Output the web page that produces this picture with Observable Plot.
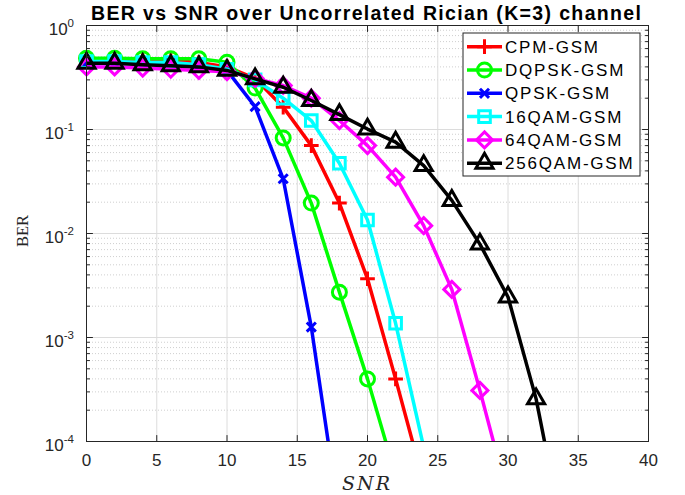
<!DOCTYPE html>
<html><head><meta charset="utf-8">
<script src="https://cdn.jsdelivr.net/npm/d3@7"></script>
<script src="https://cdn.jsdelivr.net/npm/@observablehq/plot@0.6"></script>
<style>body{margin:0;background:#fff} #chart{width:685px;height:495px}</style>
</head><body><div id="chart"></div>
<script>
// ---- data ----
const snr = [0,2,4,6,8,10,12,14,16,18,20,22,24,26,28,30,32,34];
const seriesNames = ["CPM-GSM","DQPSK-GSM","QPSK-GSM","16QAM-GSM","64QAM-GSM","256QAM-GSM"];
const seriesColors = ["#ff0000","#00ff00","#0000ff","#00ffff","#ff00ff","#000000"];
const seriesSymbols = ["plus","circle","times","square2","diamond2","triangle2"];
const seriesR = [4.8, 7, 4.2, 7.4, 7.2, 8.2];
const berCPM    = [0.47,0.47,0.46,0.46,0.44,0.40,0.31,0.164,0.070,0.0196,0.00367,4.0e-4,4.0e-5];
const berDQPSK  = [0.485,0.485,0.48,0.48,0.478,0.444,0.25,0.083,0.0196,0.00273,4.0e-4,4.7e-5];
const berQPSK   = [0.43,0.43,0.43,0.43,0.41,0.37,0.166,0.0336,0.00126,1.85e-5];
const ber16QAM  = [0.45,0.45,0.44,0.44,0.42,0.38,0.30,0.20,0.122,0.0474,0.0135,0.00137,8.8e-5];
const ber64QAM  = [0.40,0.40,0.39,0.38,0.37,0.36,0.31,0.265,0.20,0.122,0.070,0.0348,0.0119,0.0029,3.1e-4,2.95e-5];
const ber256QAM = [0.434,0.434,0.42,0.41,0.40,0.37,0.307,0.255,0.19,0.139,0.101,0.0755,0.045,0.0208,0.0079,0.00245,2.57e-4,1.1e-5];
const xTicks = [0,5,10,15,20,25,30,35,40];
const yMajor = [1e-4,1e-3,1e-2,1e-1,1];
const yExponents = ["-4","-3","-2","-1","0"];
const minorMult = [2,3,4,5,6,7,8,9];
const titleText = "BER vs SNR over Uncorrelated Rician (K=3) channel";
const xLabel = "SNR";
const yLabel = "BER";

const allSeries = [berCPM, berDQPSK, berQPSK, ber16QAM, ber64QAM, ber256QAM];
const yMinor = yMajor.slice(0, -1).flatMap(d => minorMult.map(m => d * m));
const yMin = 1e-4;
const axisColor = "#262626";
const sans = "'Liberation Sans', Arial, sans-serif";

// straight tick shape for vector marks
const tickShape = {draw(context, l) { context.moveTo(0, 0); context.lineTo(0, -l); }};
const ticks = (data, dim, frameAnchor, rotate, length) =>
  Plot.vector(data, {[dim]: d => d, frameAnchor, rotate, length, anchor: "start", shape: tickShape, stroke: axisColor, strokeWidth: 1});

const marks = [
  Plot.gridY(yMinor, {stroke: "#cfcfcf", strokeOpacity: 1, strokeDasharray: "1,2"}),
  Plot.gridX(xTicks, {stroke: "#dcdcdc", strokeOpacity: 1}),
  Plot.gridY(yMajor, {stroke: "#dcdcdc", strokeOpacity: 1})
];
allSeries.forEach((vals, i) => {
  const rows = vals.map((v, j) => ({snr: snr[j], ber: v}));
  marks.push(Plot.line(rows, {x: "snr", y: "ber", stroke: seriesColors[i], strokeWidth: 3.5, clip: true}));
  marks.push(Plot.dot(rows.filter(d => d.ber >= yMin), {x: "snr", y: "ber", symbol: seriesSymbols[i], r: seriesR[i], stroke: seriesColors[i], strokeWidth: 3, fill: "none"}));
});
marks.push(
  Plot.frame({stroke: axisColor, strokeWidth: 1}),
  ticks(xTicks, "x", "bottom", 0, 6),
  ticks(xTicks, "x", "top", 180, 6),
  ticks(yMajor, "y", "left", 90, 6),
  ticks(yMinor, "y", "left", 90, 3),
  ticks(yMajor, "y", "right", -90, 6),
  ticks(yMinor, "y", "right", -90, 3),
  Plot.axisX(xTicks, {anchor: "bottom", tickSize: 0, tickPadding: 12, label: null, fill: axisColor, fontSize: 17})
);

const plot = Plot.plot({
  width: 685, height: 495,
  marginLeft: 86, marginRight: 37, marginTop: 25, marginBottom: 54,
  style: {fontFamily: sans, fontSize: "17px", background: "white", color: axisColor},
  x: {domain: [0, 40]},
  y: {type: "log", domain: [1e-4, 1], axis: null},
  marks
});

const svg = d3.select(plot);
const ys = plot.scale("y");
// y tick labels with superscript exponents
yMajor.forEach((v, i) => {
  const t = svg.append("text")
    .attr("x", 74).attr("y", ys.apply(v) + 10)
    .attr("text-anchor", "end")
    .attr("fill", axisColor)
    .style("font", `17px ${sans}`);
  t.append("tspan").text("10");
  t.append("tspan").attr("dy", -8).attr("font-size", 11.5).text(yExponents[i]);
});
// title
svg.append("text").attr("x", 366).attr("y", 20).attr("text-anchor", "middle")
  .attr("textLength", 550).attr("lengthAdjust", "spacing")
  .style("font", `bold 19.5px ${sans}`).attr("fill", "#000").text(titleText);
// axis labels
svg.append("text").attr("x", 367).attr("y", 490).attr("text-anchor", "middle")
  .style("font", "italic 19px 'DejaVu Serif', 'Liberation Serif', serif").style("letter-spacing", "2px")
  .attr("fill", axisColor).text(xLabel);
svg.append("text").attr("transform", "translate(28,231) rotate(-90)").attr("text-anchor", "middle")
  .style("font", "16.5px 'Liberation Serif', 'Times New Roman', serif").attr("fill", axisColor).text(yLabel);

// legend
const symMap = {plus: d3.symbolPlus, circle: d3.symbolCircle, times: d3.symbolTimes, square2: d3.symbolSquare2, diamond2: d3.symbolDiamond2, triangle2: d3.symbolTriangle2};
const lg = svg.append("g");
lg.append("rect").attr("x", 463).attr("y", 33).attr("width", 177).attr("height", 143)
  .attr("fill", "white").attr("stroke", axisColor).attr("stroke-width", 1);
seriesNames.forEach((name, i) => {
  const cy = 46.7 + i * 23.3;
  lg.append("line").attr("x1", 467).attr("x2", 502).attr("y1", cy).attr("y2", cy)
    .attr("stroke", seriesColors[i]).attr("stroke-width", 3.5);
  lg.append("path").attr("transform", `translate(484.5,${cy})`)
    .attr("d", d3.symbol(symMap[seriesSymbols[i]], Math.PI * seriesR[i] ** 2)())
    .attr("fill", "none").attr("stroke", seriesColors[i]).attr("stroke-width", 3);
  lg.append("text").attr("x", 505).attr("y", cy + 6).attr("text-anchor", "start")
    .style("font", `17px ${sans}`).style("letter-spacing", "1.8px").attr("fill", "#000").text(name);
});

document.getElementById("chart").appendChild(plot);
</script>
</body></html>
